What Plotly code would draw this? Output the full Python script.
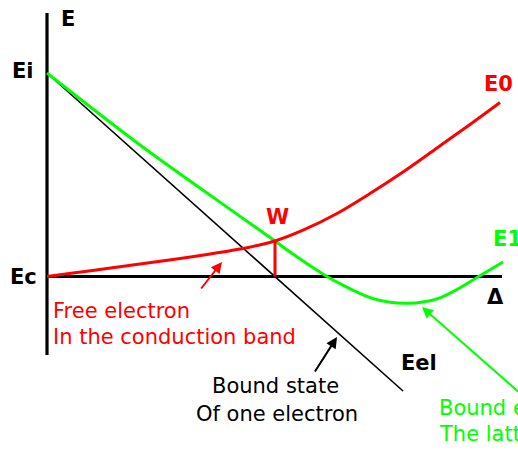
import plotly.graph_objects as go

# ---- data (diagram units: delta along the configuration axis, energy relative to Ec) ----
E_i = 203.5
E_c = 0.0

eel_delta = [0, 356]
eel_E = [203.5, -114.5]

e0_delta = [0, 26, 60, 93, 126, 160, 193, 210, 228, 256, 290, 323, 356, 390, 423, 453]
e0_E = [0, 3.5, 8, 12.5, 17, 22, 27.5, 31, 35.5, 46.3, 63, 83, 104.5, 128.5, 152, 174]

e1_delta = [0, 93, 160, 228, 243, 280, 293, 310, 326, 343, 360, 376, 393, 410, 430, 456]
e1_E = [203.5, 131.5, 83.5, 35.5, 24.5, 0, -7.2, -15.7, -22.1, -25.8, -26.8, -25.5, -21.3, -13.0, -1, 14.5]

w_delta = 228
w_E = 35.5

axis_E_top = 263.5
axis_E_bottom = -78.5
axis_delta_end = 455

RED = "#FF0000"
GREEN = "#00FF00"
BLACK = "#000000"

fig = go.Figure()

# axes
fig.add_trace(go.Scatter(x=[0, 0], y=[axis_E_bottom, axis_E_top], mode="lines",
                         line=dict(color=BLACK, width=3.2), hoverinfo="skip"))
fig.add_trace(go.Scatter(x=[0, axis_delta_end], y=[E_c, E_c], mode="lines",
                         line=dict(color=BLACK, width=3.2), hoverinfo="skip"))

# bound state of one electron
fig.add_trace(go.Scatter(x=eel_delta, y=eel_E, mode="lines",
                         line=dict(color=BLACK, width=1.6), hoverinfo="skip"))
# E1 (green)
fig.add_trace(go.Scatter(x=e1_delta, y=e1_E, mode="lines",
                         line=dict(color=GREEN, width=3, shape="spline", smoothing=1.0),
                         hoverinfo="skip"))
# E0 (red)
fig.add_trace(go.Scatter(x=e0_delta, y=e0_E, mode="lines",
                         line=dict(color=RED, width=3, shape="spline", smoothing=1.0),
                         hoverinfo="skip"))
# W
fig.add_trace(go.Scatter(x=[w_delta, w_delta], y=[E_c, w_E], mode="lines",
                         line=dict(color=RED, width=3), hoverinfo="skip"))

FONT = "DejaVu Sans"
ann = []

def label(text, x, y, color, size=21, bold=False, xanchor="left"):
    t = f"<b>{text}</b>" if bold else text
    ann.append(dict(text=t, x=x, y=y, xref="x", yref="y", showarrow=False,
                    xanchor=xanchor, yanchor="middle",
                    font=dict(family=FONT, size=size, color=color)))

def arrow(x, y, ax, ay, color):
    ann.append(dict(text="", x=x, y=y, ax=ax, ay=ay, xref="x", yref="y",
                    axref="x", ayref="y", showarrow=True, arrowhead=2,
                    arrowsize=1.1, arrowwidth=2, arrowcolor=color, standoff=0))

label("E", 12, 257.5, BLACK, bold=True)
label("Ei", -11, 205.5, BLACK, bold=True, xanchor="right")
label("Ec", -8, 0, BLACK, bold=True, xanchor="right")
label("E0", 435, 192.5, RED, bold=True)
label("E1", 444, 37.5, GREEN, bold=True)
label("W", 230, 59.5, RED, bold=True, xanchor="center")
label("Δ", 448, -20.5, BLACK, bold=True, xanchor="center")
label("Eel", 372, -86.5, BLACK, bold=True, xanchor="center")
label("Free electron", 4, -34.5, RED)
label("In the conduction band", 4, -60.5, RED)
label("Bound state", 228, -109.5, BLACK, xanchor="center")
label("Of one electron", 230, -137.5, BLACK, xanchor="center")
label("Bound electron", 390, -131.5, GREEN)
label("The lattice", 390, -157.5, GREEN)

arrow(175, 14.5, 153, -13.5, RED)
arrow(290, -60.5, 267, -96.5, BLACK)
arrow(375, -30.5, 483, -125.5, GREEN)

fig.update_layout(
    width=518, height=453,
    margin=dict(l=0, r=0, t=0, b=0),
    paper_bgcolor="white", plot_bgcolor="white",
    showlegend=False,
    annotations=ann,
    xaxis=dict(range=[-47, 471], visible=False, fixedrange=True),
    yaxis=dict(range=[-176.5, 276.5], visible=False, fixedrange=True),
)

fig.write_html(
    "out.html",
    config={"displayModeBar": False},
    post_script="document.body.style.margin='0px';document.body.style.overflow='hidden';",
)
